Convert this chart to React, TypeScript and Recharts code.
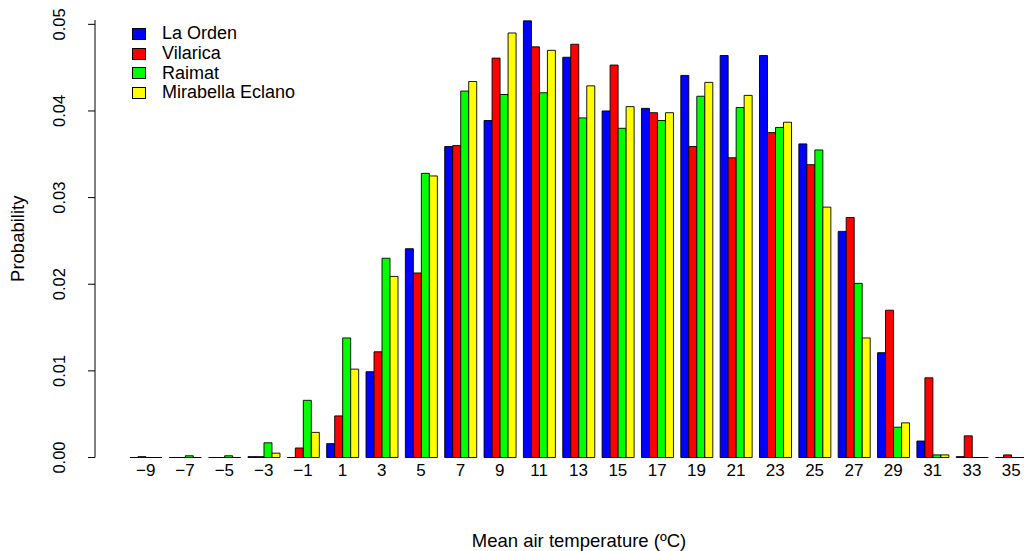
import React from "react";
import { BarChart, Bar, XAxis, YAxis, Label } from "recharts";

const temps = ["−9", "−7", "−5", "−3", "−1", "1", "3", "5", "7", "9", "11", "13", "15", "17", "19", "21", "23", "25", "27", "29", "31", "33", "35"];

const laOrden = [0, 0, 0, 0.0001, 0, 0.0016, 0.0099, 0.0241, 0.0359, 0.0389, 0.0504, 0.0462, 0.04, 0.0403, 0.0441, 0.0464, 0.0464, 0.0362, 0.0261, 0.0121, 0.0019, 0.0001, 0];
const vilarica = [0.0001, 0, 0, 0.0001, 0.0011, 0.0048, 0.0122, 0.0213, 0.036, 0.0461, 0.0474, 0.0477, 0.0453, 0.0398, 0.0359, 0.0346, 0.0375, 0.0338, 0.0277, 0.017, 0.0092, 0.0025, 0.0003];
const raimat = [0, 0.0002, 0.0002, 0.0017, 0.0066, 0.0138, 0.023, 0.0328, 0.0423, 0.0419, 0.0421, 0.0392, 0.038, 0.0389, 0.0417, 0.0404, 0.0381, 0.0355, 0.0201, 0.0035, 0.0003, 0, 0];
const mirabella = [0, 0, 0, 0.0005, 0.0029, 0.0102, 0.0209, 0.0325, 0.0434, 0.049, 0.047, 0.0429, 0.0405, 0.0398, 0.0433, 0.0418, 0.0387, 0.0289, 0.0138, 0.004, 0.0003, 0, 0];

const yTicks = [0, 0.01, 0.02, 0.03, 0.04, 0.05];

const series = [
  { key: "laOrden", name: "La Orden", color: "#0000ff" },
  { key: "vilarica", name: "Vilarica", color: "#ff0000" },
  { key: "raimat", name: "Raimat", color: "#00ff00" },
  { key: "mirabella", name: "Mirabella Eclano", color: "#ffff00" },
];

const data = temps.map((t, i) => ({
  t,
  laOrden: laOrden[i],
  vilarica: vilarica[i],
  raimat: raimat[i],
  mirabella: mirabella[i],
}));

const FONT = "'Liberation Sans', Arial, sans-serif";

// path instead of rect so zero-height bars still show their border
function BarShape(props: any) {
  const { x, y, width, height, fill } = props;
  if (x == null || y == null) return null;
  const h = Math.max(height || 0, 0);
  return (
    <path
      d={`M${x},${y} h${width} v${h} h${-width} Z`}
      fill={fill}
      stroke="#000"
      strokeWidth={0.9}
    />
  );
}

function YTick(props: any) {
  const { x, y, payload } = props;
  const tx = x - 21;
  return (
    <text
      x={tx}
      y={y}
      transform={`rotate(-90 ${tx} ${y})`}
      textAnchor="middle"
      fontSize={16.5}
      fontFamily={FONT}
      fill="#000"
    >
      {Number(payload.value).toFixed(2)}
    </text>
  );
}

function LegendBox() {
  return (
    <div
      style={{
        position: "absolute",
        left: 132,
        top: 24,
        fontFamily: FONT,
        fontSize: 18,
        color: "#000",
      }}
    >
      {series.map((s) => (
        <div key={s.key} style={{ display: "flex", alignItems: "center", height: 19.7 }}>
          <span
            style={{
              display: "inline-block",
              width: 12,
              height: 10,
              background: s.color,
              border: "1px solid #000",
              marginRight: 16,
            }}
          />
          <span>{s.name}</span>
        </div>
      ))}
    </div>
  );
}

export default function App() {
  return (
    <div
      style={{
        position: "absolute",
        left: 0,
        top: 0,
        width: 1024,
        height: 551,
        overflow: "hidden",
        background: "#fff",
      }}
    >
      <BarChart
        width={1070}
        height={551}
        data={data}
        margin={{ top: 20, right: 7, bottom: 0, left: 0 }}
        barCategoryGap="10%"
        barGap={0}
      >
        <XAxis
          dataKey="t"
          height={93.5}
          axisLine={false}
          tickLine={false}
          interval={0}
          tickMargin={0}
          padding={{ left: 31, right: 32 }}
          tick={{ fontSize: 17, fill: "#000", fontFamily: FONT }}
        >
          <Label
            value="Mean air temperature (ºC)"
            position="insideBottom"
            offset={4}
            style={{ fontSize: 18.5, fill: "#000", fontFamily: FONT }}
          />
        </XAxis>
        <YAxis
          width={95}
          domain={[0, 0.0505]}
          ticks={yTicks}
          tickSize={7}
          stroke="#000"
          tick={<YTick />}
        >
          <Label
            content={(p: any) => {
              const vb = p.viewBox || {};
              const cx = vb.x + 24;
              const cy = vb.y + vb.height / 2;
              return (
                <text
                  x={cx}
                  y={cy}
                  transform={`rotate(-90 ${cx} ${cy})`}
                  textAnchor="middle"
                  fontSize={18.5}
                  fontFamily={FONT}
                  fill="#000"
                >
                  Probability
                </text>
              );
            }}
          />
        </YAxis>
        {series.map((s) => (
          <Bar
            key={s.key}
            dataKey={s.key}
            name={s.name}
            fill={s.color}
            shape={<BarShape />}
            isAnimationActive={false}
          />
        ))}
      </BarChart>
      <LegendBox />
    </div>
  );
}
